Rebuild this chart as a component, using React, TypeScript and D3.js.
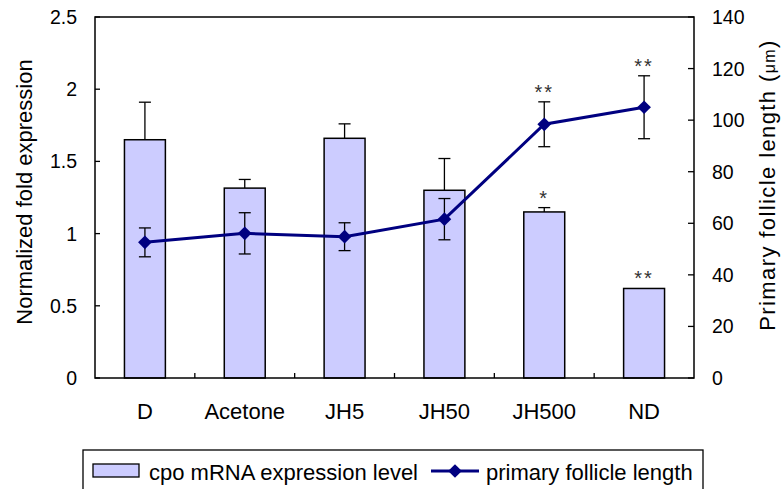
import React, { useEffect, useRef } from "react";
import * as d3 from "d3";

const categories = ["D", "Acetone", "JH5", "JH50", "JH500", "ND"];
const expression = [1.65, 1.315, 1.66, 1.3, 1.15, 0.62];
const expressionErr = [0.26, 0.06, 0.1, 0.22, 0.03, 0];
const expressionMarks = ["", "", "", "", "*", "**"];
const follicle = [52.6, 56.1, 54.8, 61.6, 98.4, 105];
const follicleErr = [5.6, 8, 5.4, 8, 8.7, 12.2];
const follicleMarks = ["", "", "", "", "**", "**"];
const leftTicks = [0, 0.5, 1, 1.5, 2, 2.5];
const rightTicks = [0, 20, 40, 60, 80, 100, 120, 140];

const App = () => {
  const svgRef = useRef<SVGSVGElement>(null);

  useEffect(() => {
    const width = 783;
    const height = 489;
    const m = { left: 95, right: 89, top: 17, bottom: 111 };
    const font = "'Liberation Sans', Arial, sans-serif";
    const navy = "#000080";

    const svg = d3.select(svgRef.current);
    svg.selectAll("*").remove();
    svg.attr("width", width).attr("height", height).style("font-family", font);

    const x = d3
      .scaleBand()
      .domain(categories)
      .range([m.left, width - m.right])
      .paddingInner(0.59)
      .paddingOuter(0.295);
    const xCenter = (c: string) => (x(c) as number) + x.bandwidth() / 2;
    const yL = d3.scaleLinear().domain([0, 2.5]).range([height - m.bottom, m.top]);
    const yR = d3.scaleLinear().domain([0, 140]).range([height - m.bottom, m.top]);

    const g = svg.append("g");

    // Bars
    g.selectAll("rect.bar")
      .data(categories)
      .enter()
      .append("rect")
      .attr("x", (d) => x(d) as number)
      .attr("y", (d, i) => yL(expression[i]))
      .attr("width", x.bandwidth())
      .attr("height", (d, i) => yL(0) - yL(expression[i]))
      .attr("fill", "#ccccff")
      .attr("stroke", "#000")
      .attr("stroke-width", 1.5);

    // Bar error bars (upper only)
    categories.forEach((c, i) => {
      if (!expressionErr[i]) return;
      const cx = xCenter(c);
      const top = yL(expression[i] + expressionErr[i]);
      g.append("line")
        .attr("x1", cx).attr("x2", cx)
        .attr("y1", yL(expression[i])).attr("y2", top)
        .attr("stroke", "#000").attr("stroke-width", 1.3);
      g.append("line")
        .attr("x1", cx - 6).attr("x2", cx + 6)
        .attr("y1", top).attr("y2", top)
        .attr("stroke", "#000").attr("stroke-width", 1.3);
    });

    // Bar significance marks
    g.selectAll("text.bmark")
      .data(categories)
      .enter()
      .append("text")
      .attr("x", (d) => xCenter(d))
      .attr("y", (d, i) => yL(expression[i] + expressionErr[i]) - 3)
      .attr("text-anchor", "middle")
      .attr("font-size", 20)
      .attr("letter-spacing", 2)
      .attr("fill", "#333")
      .text((d, i) => expressionMarks[i]);

    // Line error bars
    categories.forEach((c, i) => {
      const cx = xCenter(c);
      const hi = yR(follicle[i] + follicleErr[i]);
      const lo = yR(follicle[i] - follicleErr[i]);
      g.append("line")
        .attr("x1", cx).attr("x2", cx)
        .attr("y1", hi).attr("y2", lo)
        .attr("stroke", "#000").attr("stroke-width", 1.3);
      [hi, lo].forEach((yy) =>
        g.append("line")
          .attr("x1", cx - 6).attr("x2", cx + 6)
          .attr("y1", yy).attr("y2", yy)
          .attr("stroke", "#000").attr("stroke-width", 1.3)
      );
    });

    // Line
    const line = d3
      .line<number>()
      .x((d, i) => xCenter(categories[i]))
      .y((d) => yR(d));
    g.append("path")
      .datum(follicle)
      .attr("d", line)
      .attr("fill", "none")
      .attr("stroke", navy)
      .attr("stroke-width", 3);

    const diamond = d3.symbol().type(d3.symbolDiamond2).size(120);
    g.selectAll("path.pt")
      .data(follicle)
      .enter()
      .append("path")
      .attr("d", diamond)
      .attr("transform", (d, i) => `translate(${xCenter(categories[i])},${yR(d)})`)
      .attr("fill", navy);

    g.selectAll("text.lmark")
      .data(categories)
      .enter()
      .append("text")
      .attr("x", (d) => xCenter(d))
      .attr("y", (d, i) => yR(follicle[i] + follicleErr[i]) - 3)
      .attr("text-anchor", "middle")
      .attr("font-size", 20)
      .attr("letter-spacing", 2)
      .attr("fill", "#333")
      .text((d, i) => follicleMarks[i]);

    // Frame
    svg.append("rect")
      .attr("x", m.left).attr("y", m.top)
      .attr("width", width - m.left - m.right)
      .attr("height", height - m.top - m.bottom)
      .attr("fill", "none")
      .attr("stroke", "#000")
      .attr("stroke-width", 1.5);

    // Left axis
    const left = svg.append("g").attr("transform", `translate(${m.left},0)`);
    leftTicks.forEach((t) => {
      left.append("line").attr("x1", 0).attr("x2", 5).attr("y1", yL(t)).attr("y2", yL(t)).attr("stroke", "#000").attr("stroke-width", 1.3);
      left.append("text")
        .attr("x", -18).attr("y", yL(t)).attr("dy", "0.36em")
        .attr("text-anchor", "end").attr("font-size", 19.5)
        .text(String(t));
    });

    // Right axis
    const right = svg.append("g").attr("transform", `translate(${width - m.right},0)`);
    rightTicks.forEach((t) => {
      right.append("line").attr("x1", 0).attr("x2", -6).attr("y1", yR(t)).attr("y2", yR(t)).attr("stroke", "#000").attr("stroke-width", 1.3);
      right.append("text")
        .attr("x", 18).attr("y", yR(t)).attr("dy", "0.36em")
        .attr("text-anchor", "start").attr("font-size", 19.5)
        .text(String(t));
    });

    // X ticks at category boundaries
    const step = x.step();
    d3.range(1, categories.length).forEach((k) => {
      const xx = m.left + k * step;
      svg.append("line").attr("x1", xx).attr("x2", xx).attr("y1", yL(0)).attr("y2", yL(0) - 5).attr("stroke", "#000").attr("stroke-width", 1.3);
    });
    svg.selectAll("text.cat")
      .data(categories)
      .enter()
      .append("text")
      .attr("x", (d) => xCenter(d))
      .attr("y", 419)
      .attr("text-anchor", "middle")
      .attr("font-size", 22)
      .text((d) => d);

    // Axis titles
    svg.append("text")
      .attr("transform", `translate(32,192) rotate(-90)`)
      .attr("text-anchor", "middle")
      .attr("font-size", 22)
      .text("Normalized fold expression");
    const rt = svg.append("text")
      .attr("transform", `translate(775,185) rotate(-90)`)
      .attr("text-anchor", "middle")
      .attr("font-size", 22)
      .attr("letter-spacing", 1.4);
    rt.append("tspan").text("Primary follicle length (");
    rt.append("tspan").attr("font-size", 16).text("μm");
    rt.append("tspan").text(")");

    // Legend
    const lg = svg.append("g");
    lg.append("rect")
      .attr("x", 83).attr("y", 450).attr("width", 620).attr("height", 50)
      .attr("fill", "#fff").attr("stroke", "#000").attr("stroke-width", 1.3);
    lg.append("rect")
      .attr("x", 93).attr("y", 464).attr("width", 46).attr("height", 13)
      .attr("fill", "#ccccff").attr("stroke", "#000").attr("stroke-width", 1.3);
    lg.append("text").attr("x", 149).attr("y", 480).attr("font-size", 22).text("cpo mRNA expression level");
    lg.append("line").attr("x1", 431).attr("x2", 479).attr("y1", 471).attr("y2", 471).attr("stroke", navy).attr("stroke-width", 3);
    lg.append("path").attr("d", diamond).attr("transform", "translate(455,471)").attr("fill", navy);
    lg.append("text").attr("x", 486).attr("y", 480).attr("font-size", 22).text("primary follicle length");
  }, []);

  return <svg ref={svgRef} style={{ position: "absolute", left: 0, top: 0 }}></svg>;
};

export default App;
